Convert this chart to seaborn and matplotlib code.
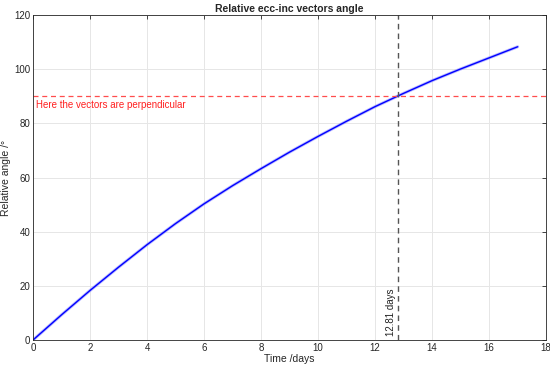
import matplotlib
matplotlib.use('Agg')
import matplotlib.pyplot as plt
import seaborn as sns
import pandas as pd

# data
days = [0, 1, 2, 3, 4, 5, 6, 7, 8, 9, 10, 11, 12, 13, 14, 15, 16, 17]
angle = [0, 9.3, 18.3, 26.9, 35.2, 43.0, 50.3, 57.0, 63.3, 69.4, 75.2, 80.8, 86.2, 91.1, 95.8, 100.1, 104.2, 108.3]
cross_day = 12.81
perp_angle = 90

df = pd.DataFrame({'Time': days, 'Angle': angle})

sns.set_style('white')
plt.rcParams['font.family'] = ['Liberation Sans', 'DejaVu Sans']

fig = plt.figure(figsize=(5.5, 3.68), dpi=100)
ax = fig.add_axes([0.06, 0.076, 0.933, 0.883])

# lighter band behind the main line (the wiggle of the real trace)
sns.lineplot(data=df, x='Time', y='Angle', ax=ax, color='#8c8cff', lw=2.2, alpha=0.6)
sns.lineplot(data=df, x='Time', y='Angle', ax=ax, color='#0000ff', lw=1.0)

ax.axhline(perp_angle, color='#ff4d4d', ls='--', lw=0.9, dashes=(4, 3))
ax.text(0.1, perp_angle - 1.3, 'Here the vectors are perpendicular', color='#ff2020',
        fontsize=7, va='top', ha='left')
ax.axvline(cross_day, color='#555555', ls='--', lw=1.0, dashes=(4, 3))
ax.text(cross_day - 0.08, 1.5, f'{cross_day:.2f} days', rotation=90, color='#222222',
        fontsize=7, ha='right', va='bottom')

ax.set_xlim(0, 18)
ax.set_ylim(0, 120)
ax.set_xticks(range(0, 19, 2))
ax.set_yticks(range(0, 121, 20))
ax.grid(True, color='#e6e6e6', lw=0.7)
ax.tick_params(direction='in', length=3, labelsize=7, colors='#262626',
               top=True, right=True, width=0.6, pad=2)
for s in ax.spines.values():
    s.set_color('#262626')
    s.set_linewidth(0.6)

ax.set_title('Relative ecc-inc vectors angle', fontsize=7.5, fontweight='bold', pad=2)
ax.set_xlabel('Time /days', fontsize=7.5, labelpad=1)
ax.set_ylabel('Relative angle /°', fontsize=7.5, labelpad=2)

fig.savefig('out.png', dpi=100)
